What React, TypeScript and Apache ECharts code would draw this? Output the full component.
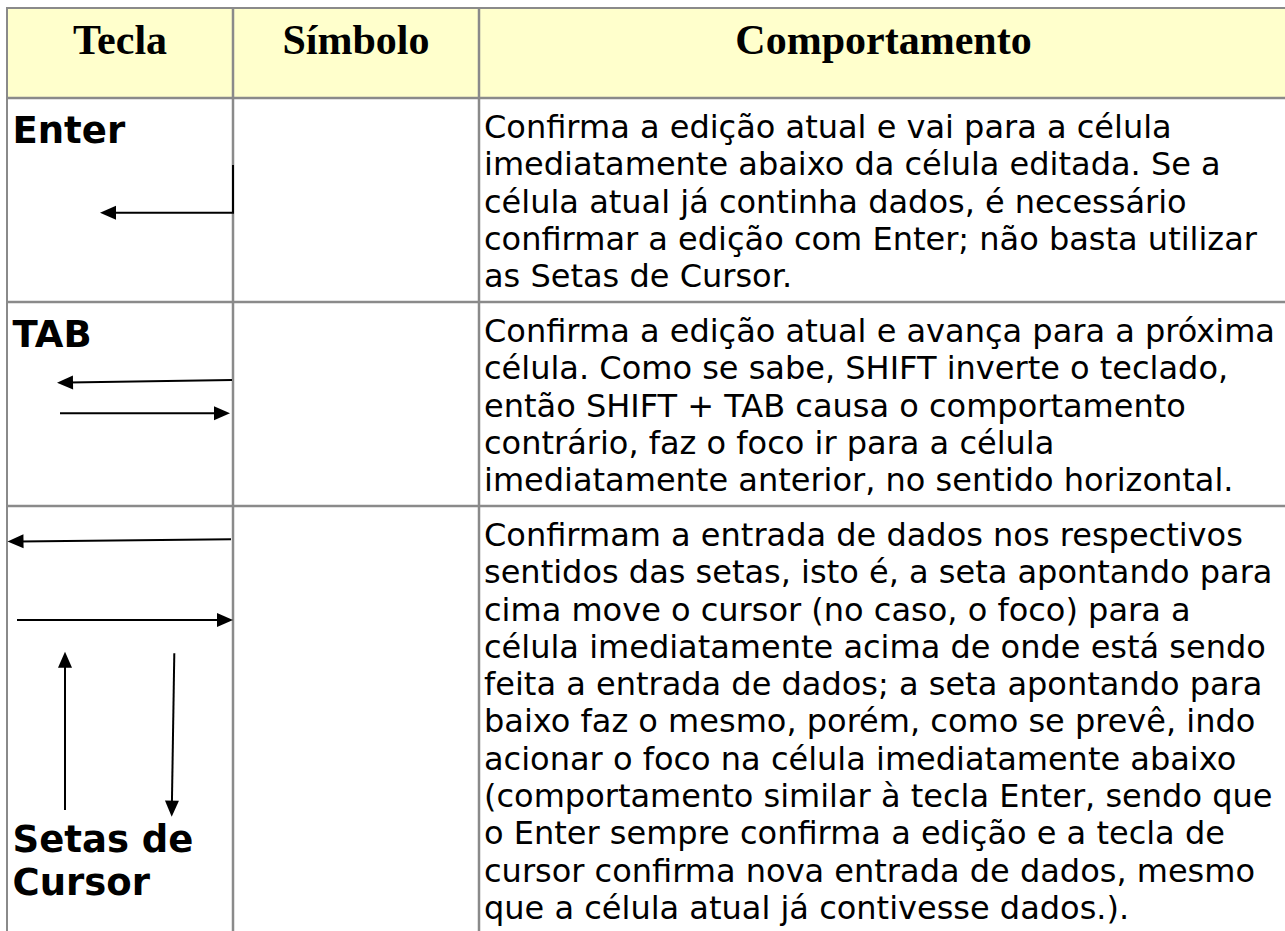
import React, { useEffect, useRef } from 'react';
import * as echarts from 'echarts';

// ---- table content ----
const headers = ['Tecla', 'Símbolo', 'Comportamento'];
const keys = [['Enter'], ['TAB'], ['Setas de', 'Cursor']];
const enterLines = [
  'Confirma a edição atual e vai para a célula',
  'imediatamente abaixo da célula editada. Se a',
  'célula atual já continha dados, é necessário',
  'confirmar a edição com Enter; não basta utilizar',
  'as Setas de Cursor.',
];
const tabLines = [
  'Confirma a edição atual e avança para a próxima',
  'célula. Como se sabe, SHIFT inverte o teclado,',
  'então SHIFT + TAB causa o comportamento',
  'contrário, faz o foco ir para a célula',
  'imediatamente anterior, no sentido horizontal.',
];
const cursorLines = [
  'Confirmam a entrada de dados nos respectivos',
  'sentidos das setas, isto é, a seta apontando para',
  'cima move o cursor (no caso, o foco) para a',
  'célula imediatamente acima de onde está sendo',
  'feita a entrada de dados; a seta apontando para',
  'baixo faz o mesmo, porém, como se prevê, indo',
  'acionar o foco na célula imediatamente abaixo',
  '(comportamento similar à tecla Enter, sendo que',
  'o Enter sempre confirma a edição e a tecla de',
  'cursor confirma nova entrada de dados, mesmo',
  'que a célula atual já contivesse dados.).',
];
const descriptions = [enterLines, tabLines, cursorLines];

// ---- layout ----
const W = 1285;
const H = 931;
const colX = [7, 233, 479, 1288];
const rowY = [8, 98, 302, 506, 960];
const headerBg = '#FFFFCC';
const borderColor = '#8a8a8a';
const bodyFont = 'DejaVu Sans';
const bodySize = 32;
const keySize = 37;
const headSize = 42;
const bodyBaselineOffset = 40;
const bodyLineH = 37.3;
const keyBaselines = [[143], [347], [852.3, 895.5]];
const centralShift = 0.346; // em between central and alphabetic baseline

function arrowHead(tx: number, ty: number, fx: number, fy: number) {
  const dx = tx - fx, dy = ty - fy;
  const len = Math.hypot(dx, dy);
  const ux = dx / len, uy = dy / len;
  const hl = 16, hw = 7;
  const bx = tx - ux * hl, by = ty - uy * hl;
  return {
    type: 'polygon',
    shape: { points: [[tx, ty], [bx - uy * hw, by + ux * hw], [bx + uy * hw, by - ux * hw]] },
    style: { fill: '#000' },
    z: 20,
  };
}

function arrow(x1: number, y1: number, x2: number, y2: number) {
  const dx = x2 - x1, dy = y2 - y1;
  const len = Math.hypot(dx, dy);
  const ex = x2 - (dx / len) * 12, ey = y2 - (dy / len) * 12;
  return [
    { type: 'line', shape: { x1, y1, x2: ex, y2: ey }, style: { stroke: '#000', lineWidth: 2 }, z: 20 },
    arrowHead(x2, y2, x1, y1),
  ];
}

function buildElements() {
  const els: any[] = [];
  // header background
  els.push({
    type: 'rect',
    shape: { x: colX[0], y: rowY[0], width: colX[3] - colX[0], height: rowY[1] - rowY[0] },
    style: { fill: headerBg },
    z: 1,
  });
  // horizontal borders
  rowY.slice(0, 4).forEach((y, i) => {
    els.push({
      type: 'line',
      shape: { x1: colX[0] - 1, y1: y, x2: colX[3], y2: y },
      style: { stroke: borderColor, lineWidth: i === 0 ? 2 : 2.5 },
      z: 10,
    });
  });
  // vertical borders
  colX.slice(0, 3).forEach((x, i) => {
    els.push({
      type: 'line',
      shape: { x1: x, y1: rowY[0] - 1, x2: x, y2: H + 5 },
      style: { stroke: borderColor, lineWidth: i === 0 ? 2 : 2.5 },
      z: 10,
    });
  });
  // header texts
  headers.forEach((h, i) => {
    els.push({
      type: 'text',
      x: (colX[i] + colX[i + 1]) / 2,
      y: 40.1,
      style: {
        text: h,
        fontFamily: 'Liberation Serif',
        fontWeight: 'bold',
        fontSize: headSize,
        fill: '#000',
        align: 'center',
        verticalAlign: 'middle',
      },
      z: 30,
    });
  });
  // key labels
  keys.forEach((lines, i) => {
    lines.forEach((k, j) => {
      els.push({
        type: 'text',
        x: 12.5,
        y: keyBaselines[i][j] - centralShift * keySize,
        style: {
          text: k,
          fontFamily: bodyFont,
          fontWeight: 'bold',
          fontSize: keySize,
          fill: '#000',
          align: 'left',
          verticalAlign: 'middle',
        },
        z: 30,
      });
    });
  });
  // descriptions
  descriptions.forEach((lines, i) => {
    const base0 = rowY[i + 1] + bodyBaselineOffset;
    lines.forEach((line, j) => {
      els.push({
        type: 'text',
        x: 484,
        y: base0 + j * bodyLineH - centralShift * bodySize,
        style: {
          text: line,
          fontFamily: bodyFont,
          fontSize: bodySize,
          fill: '#000',
          align: 'left',
          verticalAlign: 'middle',
        },
        z: 30,
      });
    });
  });
  // symbols: Enter
  els.push({
    type: 'polyline',
    shape: { points: [[233, 165], [233, 212.7], [112, 212.7]] },
    style: { stroke: '#000', lineWidth: 2, fill: null },
    z: 20,
  });
  els.push(arrowHead(100, 212.7, 233, 212.7));
  // TAB
  els.push(...arrow(232, 380, 57, 382.7));
  els.push(...arrow(60, 413.3, 230, 413.3));
  // cursor arrows
  els.push(...arrow(231, 539.3, 7.5, 541.5));
  els.push(...arrow(17, 620, 233, 620));
  els.push(...arrow(65, 810, 65, 651.7));
  els.push(...arrow(174.3, 653.3, 171.7, 816.7));
  return els;
}

export default function App() {
  const ref = useRef<HTMLDivElement>(null);
  useEffect(() => {
    if (!ref.current) return;
    const chart = echarts.init(ref.current, undefined, { renderer: 'svg' });
    chart.setOption({
      animation: false,
      backgroundColor: '#fff',
      graphic: { elements: buildElements() },
    });
    return () => chart.dispose();
  }, []);
  return (
    <div
      ref={ref}
      style={{ position: 'fixed', left: 0, top: 0, width: W, height: H, background: '#fff' }}
    />
  );
}
